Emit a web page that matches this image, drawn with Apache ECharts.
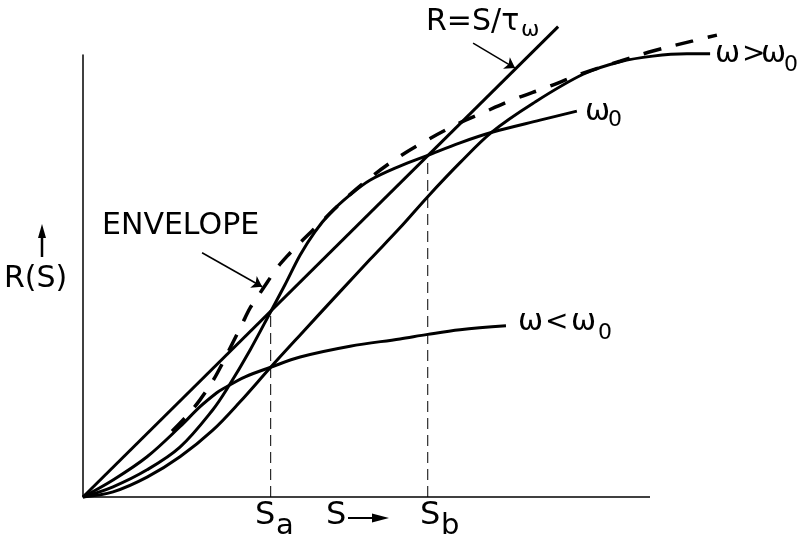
<!DOCTYPE html>
<html>
<head>
<meta charset="utf-8">
<script src="https://cdn.jsdelivr.net/npm/echarts@6/dist/echarts.min.js"></script>
<style>
  html, body { margin: 0; background: #fff; }
  #chart { width: 799px; height: 541px; }
</style>
</head>
<body>
<div id="chart"></div>
<script>
// S along the x axis, R(S) up the y axis, arbitrary units (drawn S axis runs 0..10)
const sAxisEnd = 10;
const tauLine = [[0, 0], [8.38, 8.30]];

const omegaLow = [
  [0, 0], [0.53, 0.30], [1.13, 0.71], [1.71, 1.24], [2.06, 1.59], [2.36, 1.84],
  [2.47, 1.91], [2.86, 2.12], [3.31, 2.29], [3.83, 2.47], [4.71, 2.66],
  [5.59, 2.79], [6.08, 2.87], [6.65, 2.95], [7.46, 3.02]
];

const omega0 = [
  [0, 0], [0.53, 0.18], [1.13, 0.48], [1.71, 0.88], [2.29, 1.54], [2.56, 1.94],
  [2.95, 2.60], [3.31, 3.27], [3.56, 3.74], [3.83, 4.27], [4.09, 4.68],
  [4.36, 5.01], [4.71, 5.33], [5.06, 5.59], [5.59, 5.84], [6.08, 6.03],
  [6.65, 6.25], [7.23, 6.44], [8.06, 6.65], [8.71, 6.81]
];

const omegaHigh = [
  [0, 0], [0.53, 0.09], [1.13, 0.35], [1.71, 0.71], [2.29, 1.18], [2.77, 1.68],
  [3.31, 2.29], [3.83, 2.86], [4.53, 3.62], [5.06, 4.19], [5.59, 4.75],
  [6.08, 5.30], [6.65, 5.90], [7.21, 6.44], [7.94, 6.95], [8.82, 7.46],
  [9.47, 7.68], [10.05, 7.78], [10.65, 7.82], [11.06, 7.82]
];

const envelope = [
  [1.57, 1.16], [1.83, 1.43], [2.06, 1.71], [2.29, 2.05], [2.47, 2.38],
  [2.65, 2.74], [2.80, 3.04], [2.95, 3.34], [3.09, 3.55], [3.25, 3.79],
  [3.42, 4.04], [3.60, 4.25], [3.79, 4.45], [4.18, 4.83], [4.62, 5.26],
  [5.06, 5.63], [5.54, 5.98], [6.00, 6.26], [6.56, 6.56], [7.05, 6.78],
  [7.58, 7.01], [8.18, 7.23], [8.82, 7.48], [9.47, 7.69], [10.05, 7.87],
  [10.76, 8.05], [11.18, 8.15]
];

// S_a and S_b: where omega0 crosses R = S/tau
const sMarks = [3.31, 6.08];
const sMarkTops = [3.27, 6.03];

const tauArrow = [[6.88, 8.01], [7.62, 7.57]];
const envelopeArrow = [[2.10, 4.31], [3.16, 3.71]];

const FONT = '"DejaVu Sans", sans-serif';
const UNIT = 56.7; // px per unit on both axes

function curve(data, extra) {
  return Object.assign({
    type: "line",
    data: data,
    showSymbol: false,
    symbol: "none",
    smooth: 0.35,
    clip: false,
    silent: true,
    lineStyle: { color: "#000", width: 3 }
  }, extra || {});
}

// text placed by baseline; canvas "middle" sits ~0.346em above baseline for DejaVu
function txt(x, baseline, text, size) {
  const y = baseline - 0.346 * size;
  return {
    type: "text", x: x, y: y, silent: true,
    style: {
      text: text, font: size + "px " + FONT, fill: "#000",
      align: "left", verticalAlign: "middle",
      textAlign: "left", textVerticalAlign: "middle"
    }
  };
}

const chart = echarts.init(document.getElementById("chart"));

// the curves run past the end of the drawn S axis, so the x scale is wider
// than the axis line and the axis line itself is a series
const sMax = 11.4;
const series = [
  curve([[0, 0], [sAxisEnd, 0]], { smooth: false, lineStyle: { color: "#000", width: 1.5 } }),
  curve(tauLine, { smooth: false }),
  curve(omegaLow),
  curve(omega0),
  curve(omegaHigh),
  curve(envelope, { lineStyle: { color: "#000", width: 3.5, type: [18, 15] } })
];
sMarks.forEach(function (s, i) {
  series.push(curve([[s, 0], [s, sMarkTops[i]]], {
    smooth: false,
    lineStyle: { color: "#000", width: 1, type: [11, 6] }
  }));
});
series.push({
  type: "lines",
  coordinateSystem: "cartesian2d",
  clip: false,
  silent: true,
  symbol: ["none", "arrow"],
  symbolSize: 10,
  lineStyle: { color: "#000", width: 1.5, opacity: 1 },
  data: [{ coords: tauArrow }, { coords: envelopeArrow }]
});

chart.setOption({
  backgroundColor: "#fff",
  animation: false,
  grid: { left: 83, top: 55, width: sMax * UNIT, height: 442 },
  xAxis: {
    type: "value", min: 0, max: sMax,
    axisLine: { show: false },
    axisTick: { show: false }, axisLabel: { show: false }, splitLine: { show: false }
  },
  yAxis: {
    type: "value", min: 0, max: 7.8,
    axisLine: { show: true, lineStyle: { color: "#000", width: 1.5 } },
    axisTick: { show: false }, axisLabel: { show: false }, splitLine: { show: false }
  },
  series: series,
  graphic: [
    txt(426, 33, "R=S/τ", 30),
    txt(521, 38, "ω", 22),
    txt(102, 237, "ENVELOPE", 30),
    txt(4, 290, "R(S)", 30),
    txt(255, 527, "S", 32),
    txt(276, 537, "a", 29),
    txt(326, 527, "S", 32),
    txt(420, 527, "S", 32),
    txt(441, 537, "b", 29),
    txt(518, 333, "ω", 30),
    txt(545, 332, "<", 28),
    txt(571, 333, "ω", 30),
    txt(598, 341, "0", 22),
    txt(585, 123, "ω", 30),
    txt(608, 128, "0", 22),
    txt(715, 65, "ω", 30),
    txt(742, 64, ">", 28),
    txt(761, 65, "ω", 30),
    txt(784, 73, "0", 22),
    // S -> arrow under the axis
    { type: "line", silent: true, shape: { x1: 348, y1: 518, x2: 378, y2: 518 },
      style: { stroke: "#000", lineWidth: 2 } },
    { type: "polygon", silent: true, shape: { points: [[372, 513.5], [389, 518], [372, 522.5]] },
      style: { fill: "#000" } },
    // upward arrow over R(S)
    { type: "line", silent: true, shape: { x1: 42, y1: 257, x2: 42, y2: 234 },
      style: { stroke: "#000", lineWidth: 2.5 } },
    { type: "polygon", silent: true, shape: { points: [[38, 238], [42, 224], [46, 238]] },
      style: { fill: "#000" } }
  ]
});
</script>
</body>
</html>
